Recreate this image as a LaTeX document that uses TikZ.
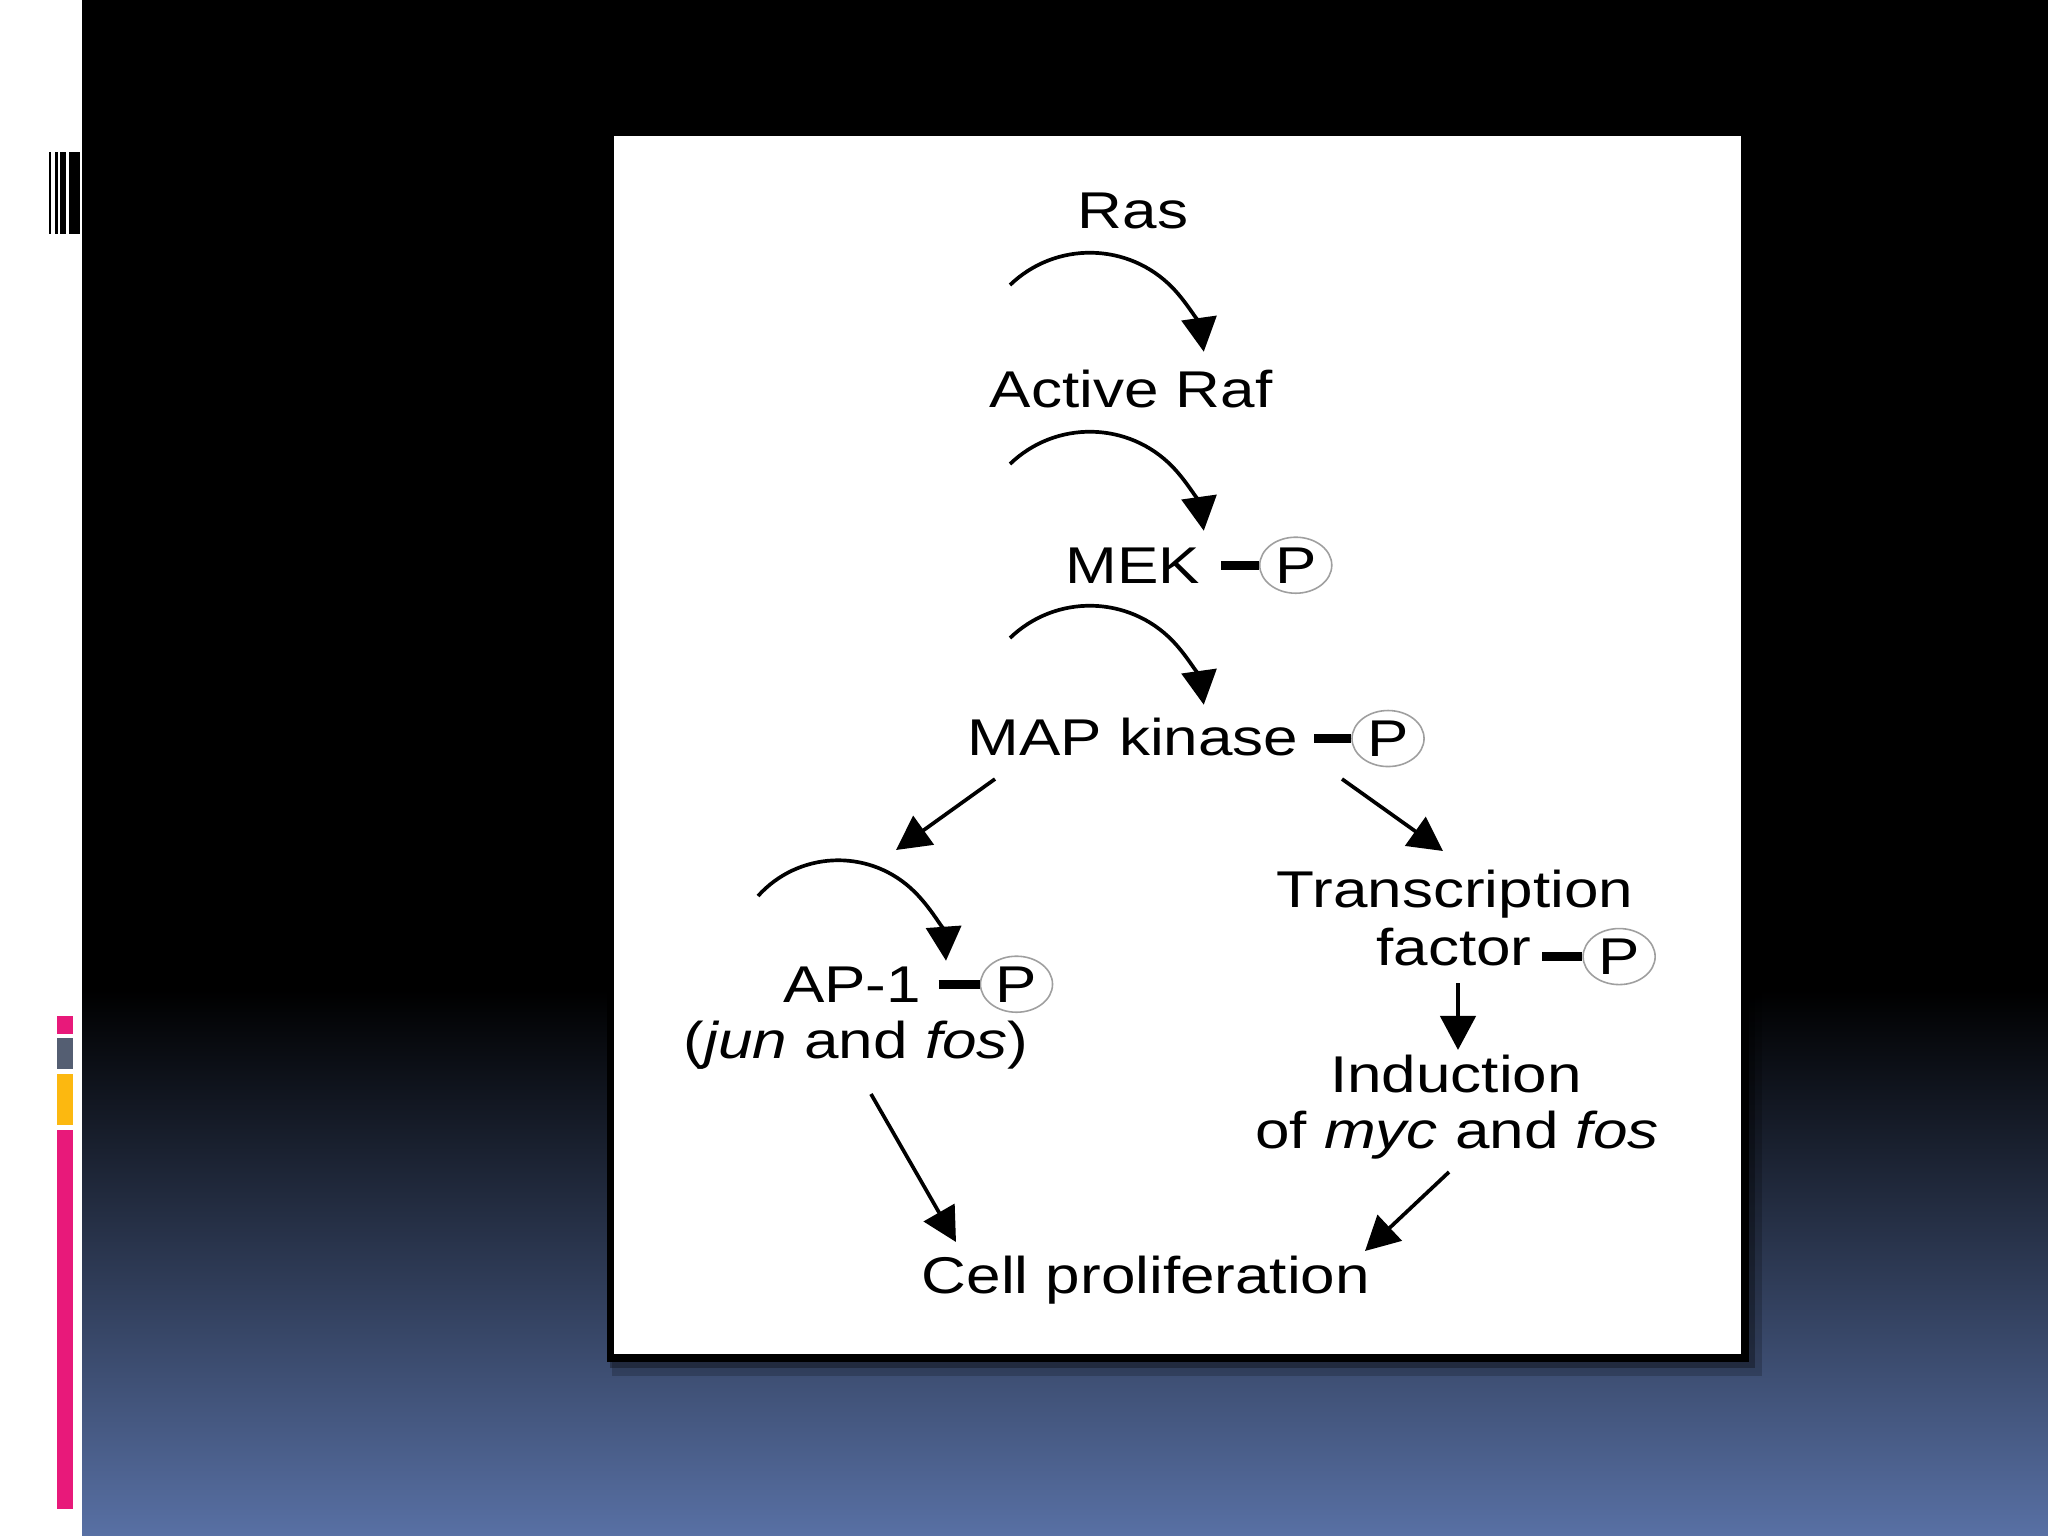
\documentclass[tikz,border=0pt]{standalone}
\usepackage{fontspec}
\setmainfont{Liberation Sans}[FakeStretch=1.2]
\usepackage{tikz}
\usetikzlibrary{arrows.meta,positioning,shapes.geometric}
\definecolor{slideblue}{RGB}{88,112,164}
\definecolor{barpink}{RGB}{232,25,122}
\definecolor{bargray}{RGB}{84,94,114}
\definecolor{baryellow}{RGB}{252,184,16}

\begin{document}
\begin{tikzpicture}[x=0.01cm, y=-0.01cm]
\useasboundingbox (0,0) rectangle (2048,1536);
% slide background
\fill[white] (0,0) rectangle (82,1536);
\fill[black] (82,0) rectangle (2048,1536);
\shade[top color=black, bottom color=slideblue] (82,990) rectangle (2048,1536);
\foreach \a/\b in {49.3/51.3, 55.3/58, 60/66.3, 69.3/80}
  \fill[black] (\a,152) rectangle (\b,234);
\fill[barpink] (57,1016) rectangle (73,1034);
\fill[bargray] (57,1038) rectangle (73,1069);
\fill[baryellow] (57,1074) rectangle (73,1125);
\fill[barpink] (57,1130) rectangle (73,1509);
% framed picture
\fill[black, opacity=0.2] (612,134) rectangle (1762,1376);
\fill[black, opacity=0.3] (610,132) rectangle (1755,1368);
\fill[black] (607,129) rectangle (1749,1362);
\fill[white] (614,136) rectangle (1741,1354);

\tikzstyle{lbl}=[inner sep=0pt, anchor=base, font=\fontsize{14.7}{16}\selectfont]
\tikzstyle{pho}=[ellipse, draw=gray!75, line width=0.45pt, inner sep=0pt,
  minimum width=0.72cm, minimum height=0.56cm, font=\fontsize{14.7}{16}\selectfont]
\tikzstyle{bond}=[line width=0.09cm]
\tikzstyle{act}=[-{Triangle[length=0.34cm, width=0.35cm]}, line width=1.05pt]

\node[lbl] (ras) at (1133,228) {Ras};
\node[lbl] (raf) at (1131,407) {Active Raf};
\node[lbl] (mek) at (1133,583) {MEK};
\node[lbl] (mapk) at (1133,755) {MAP kinase};
\node[lbl] (ap1) at (852,1002) {AP-1};
\node[lbl] (jun) at (856,1058) {(\textit{jun} and \textit{fos})};
\node[lbl] (tf) at (1455,907) {Transcription};
\node[lbl] (fac) at (1454,965) {factor};
\node[lbl] (ind) at (1456,1092) {Induction};
\node[lbl] (myc) at (1457,1148) {of \textit{myc} and \textit{fos}};
\node[lbl] (cell) at (1146,1293) {Cell proliferation};

\node[pho, right=0.58cm of mek] (pmek) {P};
\node[pho, right=0.52cm of mapk, yshift=-0.02cm] (pmapk) {P};
\node[pho, right=0.58cm of ap1] (pap1) {P};
\node[pho, right=0.50cm of fac, yshift=-0.1cm] (pfac) {P};
\draw[bond] ([xshift=0.2cm]mek.east) -- (pmek.west);
\draw[bond] ([xshift=0.15cm]mapk.east |- pmapk.west) -- (pmapk.west);
\draw[bond] ([xshift=0.17cm]ap1.east) -- (pap1.west);
\draw[bond] ([xshift=0.1cm]fac.east |- pfac.west) -- (pfac.west);

% curved activation arrows
\draw[act] ([shift={(-121,-122)}]raf.base) arc[start angle=-134, end angle=-8, radius=115];
\draw[act] ([shift={(-123,-119)}]mek.base) arc[start angle=-134, end angle=-8, radius=115];
\draw[act] ([shift={(-123,-117)}]mapk.base) arc[start angle=-134, end angle=-8, radius=115];
\draw[act] ([shift={(-94,-106)}]ap1.base) arc[start angle=-138, end angle=-4, radius=108];

\draw[act] ([shift={(-138,24)}]mapk.base) -- ([shift={(44,-152)}]ap1.base);
\draw[act] ([shift={(209,24)}]mapk.base) -- ([shift={(-12,-56)}]tf.base);
\draw[act, line width=1.3pt] ([shift={(4,18)}]fac.base) -- ([shift={(2,-42)}]ind.base);
\draw[act] ([shift={(15,36)}]jun.base) -- ([shift={(-190,-51)}]cell.base);
\draw[act] ([shift={(-8,24)}]myc.base) -- ([shift={(219,-42)}]cell.base);
\end{tikzpicture}
\end{document}
